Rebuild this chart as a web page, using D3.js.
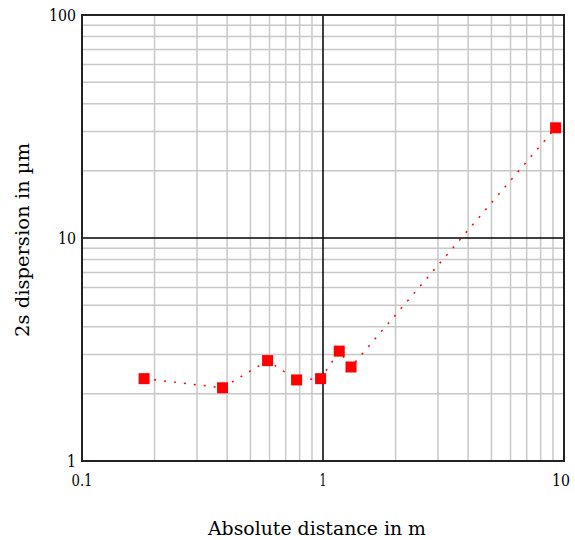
<!DOCTYPE html>
<html><head><meta charset="utf-8">
<script src="https://cdn.jsdelivr.net/npm/d3@7"></script>
<style>body{margin:0;background:#fff}</style>
</head><body>
<svg id="c" width="575" height="540"></svg>
<script>
const distance = [0.181, 0.383, 0.589, 0.777, 0.977, 1.168, 1.307, 9.23];
const dispersion = [2.34, 2.13, 2.82, 2.31, 2.34, 3.11, 2.64, 31.2];
const xTicks = [0.1, 1, 10];
const yTicks = [1, 10, 100];
const xLabels = ["0.1", "1", "10"];
const yLabels = ["1", "10", "100"];

const svg = d3.select("#c");
const L = 82, R = 564, T = 15, B = 461;
const x = d3.scaleLog().domain([0.1, 10]).range([L, R]);
const y = d3.scaleLog().domain([1, 100]).range([B, T]);

const minorX = [], minorY = [];
[0.1, 1].forEach(d => { for (let k = 2; k <= 9; k++) minorX.push(d * k); });
[1, 10].forEach(d => { for (let k = 2; k <= 9; k++) minorY.push(d * k); });

const g = svg.append("g");
g.selectAll(".mx").data(minorX).enter().append("line")
  .attr("x1", d => x(d)).attr("x2", d => x(d)).attr("y1", T).attr("y2", B)
  .attr("stroke", "#c8c8c8").attr("stroke-width", 1.5);
g.selectAll(".my").data(minorY).enter().append("line")
  .attr("y1", d => y(d)).attr("y2", d => y(d)).attr("x1", L).attr("x2", R)
  .attr("stroke", "#c8c8c8").attr("stroke-width", 1.5);
g.append("line").attr("x1", x(1)).attr("x2", x(1)).attr("y1", T).attr("y2", B)
  .attr("stroke", "#000").attr("stroke-width", 1.5);
g.append("line").attr("y1", y(10)).attr("y2", y(10)).attr("x1", L).attr("x2", R)
  .attr("stroke", "#000").attr("stroke-width", 1.5);
g.append("rect").attr("x", L).attr("y", T).attr("width", R - L).attr("height", B - T)
  .attr("fill", "none").attr("stroke", "#222").attr("stroke-width", 2);

const font = "DejaVu Serif, serif";
svg.selectAll(".yt").data(yTicks).enter().append("text")
  .attr("x", L - 6).attr("y", d => y(d) + 6)
  .attr("text-anchor", "end").style("font-family", font).style("font-size", "17px")
  .attr("textLength", (d, i) => yLabels[i].length * 9).attr("lengthAdjust", "spacingAndGlyphs")
  .text((d, i) => yLabels[i]);
const xw = [21, 7, 18];
svg.selectAll(".xt").data(xTicks).enter().append("text")
  .attr("x", (d, i) => Math.min(x(d), 570 - xw[i] / 2)).attr("y", B + 25)
  .attr("text-anchor", "middle").style("font-family", font).style("font-size", "17px")
  .attr("textLength", (d, i) => xw[i]).attr("lengthAdjust", "spacingAndGlyphs")
  .text((d, i) => xLabels[i]);

svg.append("text").attr("x", 317).attr("y", 535)
  .attr("text-anchor", "middle").style("font-family", font).style("font-size", "18px")
  .attr("textLength", 218).attr("lengthAdjust", "spacingAndGlyphs")
  .text("Absolute distance in m");
svg.append("text").attr("transform", "translate(29,240) rotate(-90)")
  .attr("text-anchor", "middle").style("font-family", font).style("font-size", "18px")
  .attr("textLength", 194).attr("lengthAdjust", "spacingAndGlyphs")
  .text("2s dispersion in µm");

const pts = distance.map((d, i) => [d, dispersion[i]]);
svg.append("path").datum(pts)
  .attr("d", d3.line().x(d => x(d[0])).y(d => y(d[1])))
  .attr("fill", "none").attr("stroke", "#ff0000").attr("stroke-width", 1.5)
  .attr("stroke-dasharray", "2,8");
const s = 11;
svg.selectAll(".pt").data(pts).enter().append("rect")
  .attr("x", d => x(d[0]) - s / 2).attr("y", d => y(d[1]) - s / 2)
  .attr("width", s).attr("height", s).attr("fill", "#ff0000");
</script>
</body></html>
